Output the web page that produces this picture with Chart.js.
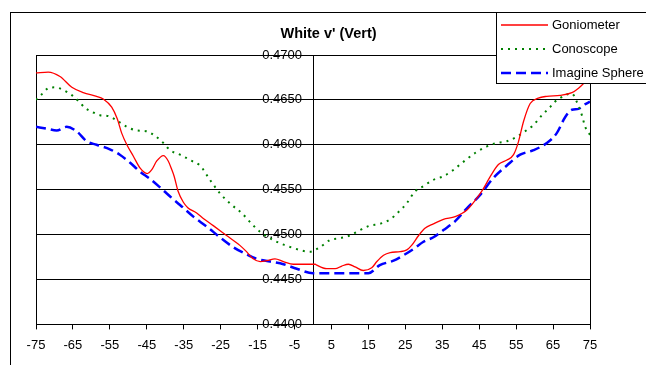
<!DOCTYPE html>
<html>
<head>
<meta charset="utf-8">
<script src="https://cdn.jsdelivr.net/npm/chart.js@4/dist/chart.umd.min.js"></script>
<style>
  html, body { margin: 0; padding: 0; background: #fff; }
  #wrap { width: 646px; height: 365px; position: relative; }
</style>
</head>
<body>
<div id="wrap"><canvas id="c" width="646" height="365"></canvas></div>
<script>
const titleText = "White v' (Vert)";
const seriesNames = ["Goniometer", "Conoscope", "Imagine Sphere"];
const xTickValues = [-75, -65, -55, -45, -35, -25, -15, -5, 5, 15, 25, 35, 45, 55, 65, 75];
const yTickValues = [0.4400, 0.4450, 0.4500, 0.4550, 0.4600, 0.4650, 0.4700];

const goniometerX = [-75, -71.7, -68.5, -65.3, -62.2, -58.6, -56.8, -54.5, -53, -51.8, -50.4, -48.6, -46.8, -44.9, -43.7, -42.3, -40.5, -39.2, -38.3, -37.6, -36.5, -35.1, -33.9, -31.5, -29.7, -27.0, -23.4, -19.8, -18.0, -16.2, -14.3, -12.5, -10.3, -8.0, -5.3, 0.6, 1.0, 3.7, 6.0, 7.8, 9.6, 11.4, 13.6, 15.9, 17.3, 19.1, 20.9, 23.6, 25.4, 26.7, 28.6, 30.3, 32.6, 35.3, 38.5, 41.6, 43.9, 46.1, 47.9, 50.2, 52.5, 54.3, 55.6, 57.0, 58.8, 61.0, 63.3, 66.9, 70.1, 71.9, 73.2, 75];
const goniometerY = [0.4680, 0.4681, 0.4676, 0.4664, 0.4658, 0.4654, 0.4651, 0.4642, 0.4629, 0.4613, 0.4600, 0.4587, 0.4574, 0.4568, 0.4572, 0.4582, 0.4588, 0.4582, 0.4573, 0.4565, 0.4548, 0.4536, 0.4530, 0.4524, 0.4518, 0.4510, 0.4499, 0.4488, 0.4481, 0.4473, 0.4470, 0.4471, 0.4473, 0.4470, 0.4467, 0.4467, 0.4466, 0.4462, 0.4462, 0.4465, 0.4467, 0.4464, 0.4460, 0.4463, 0.4470, 0.4477, 0.4480, 0.4481, 0.4483, 0.4488, 0.4499, 0.4507, 0.4512, 0.4517, 0.4520, 0.4527, 0.4538, 0.4551, 0.4564, 0.4578, 0.4583, 0.4589, 0.4603, 0.4626, 0.4646, 0.4652, 0.4654, 0.4655, 0.4658, 0.4663, 0.4668, 0.4675];

const conoscopeX = [-75, -73.5, -71.7, -69.9, -67.6, -64.9, -63.1, -61.7, -59.5, -57.7, -55.4, -52.7, -50.4, -47.7, -45.0, -42.8, -40.5, -38.7, -36.0, -32.8, -30.6, -27.9, -25.2, -22.0, -19.3, -16.6, -14.3, -9.8, -5.3, -0.8, 1.9, 4.6, 7.3, 10.0, 12.7, 15.4, 18.1, 20.9, 23.1, 25.4, 27.6, 29.9, 32.6, 35.3, 38.0, 40.7, 44.3, 47.0, 49.7, 52.5, 55.2, 57.0, 59.7, 62.0, 64.2, 65.5, 66.9, 68.7, 70.1, 71.4, 72.8, 73.7, 75];
const conoscopeY = [0.4650, 0.4656, 0.4663, 0.4664, 0.4661, 0.4654, 0.4647, 0.4641, 0.4636, 0.4633, 0.4632, 0.4626, 0.4620, 0.4616, 0.4615, 0.4610, 0.4602, 0.4594, 0.4589, 0.4582, 0.4577, 0.4561, 0.4546, 0.4533, 0.4524, 0.4512, 0.4503, 0.4492, 0.4485, 0.4481, 0.4486, 0.4494, 0.4496, 0.4499, 0.4505, 0.4510, 0.4512, 0.4517, 0.4525, 0.4535, 0.4548, 0.4554, 0.4561, 0.4565, 0.4572, 0.4581, 0.4592, 0.4598, 0.4602, 0.4604, 0.4609, 0.4614, 0.4622, 0.4633, 0.4642, 0.4648, 0.4652, 0.4656, 0.4657, 0.4648, 0.4633, 0.4620, 0.4611];

const sphereX = [-75, -72.1, -69.4, -66.7, -64.0, -61.3, -58.6, -55.0, -52.3, -49.5, -46.8, -44.1, -41.0, -38.3, -36.0, -32.4, -28.8, -25.2, -21.6, -18.0, -15.2, -11.6, -8.0, -4.4, 0, 5, 10, 15, 18.1, 21.8, 24.5, 27.2, 29.9, 32.6, 35.3, 38.5, 41.6, 45.2, 48.8, 52.5, 56.1, 59.7, 63.3, 66.0, 68.3, 70.1, 71.9, 73.2, 75];
const sphereY = [0.4620, 0.4618, 0.4616, 0.4620, 0.4615, 0.4604, 0.4600, 0.4595, 0.4589, 0.4580, 0.4570, 0.4562, 0.4551, 0.4541, 0.4533, 0.4520, 0.4509, 0.4497, 0.4486, 0.4478, 0.4473, 0.4470, 0.4467, 0.4462, 0.4457, 0.4457, 0.4457, 0.4457, 0.4466, 0.4471, 0.4477, 0.4484, 0.4492, 0.4497, 0.4505, 0.4515, 0.4529, 0.4544, 0.4563, 0.4577, 0.4589, 0.4594, 0.4602, 0.4613, 0.4631, 0.4639, 0.4640, 0.4644, 0.4648];

const FONT = '"Liberation Sans", Arial, sans-serif';
const pts = (xs, ys) => xs.map((x, i) => ({ x: x, y: ys[i] }));

const decor = {
  id: 'decor',
  beforeDraw(chart) {
    // shift the centre y-axis labels left of the axis line (tick + gap)
    try {
      const s = chart.scales.y;
      const items = s.getLabelItems(chart.chartArea);
      items.forEach(it => { it.options.translation[0] -= 11; });
    } catch (e) {}
  },
  afterDraw(chart) {
    const ctx = chart.ctx;
    ctx.save();
    ctx.strokeStyle = '#000';
    ctx.lineWidth = 1;
    ctx.setLineDash([]);
    ctx.strokeRect(10.5, 12.5, 700, 400);
    ctx.fillStyle = '#000';
    ctx.font = 'bold 14.5px ' + FONT;
    ctx.textAlign = 'center';
    ctx.textBaseline = 'middle';
    ctx.fillText(titleText, 328.5, 34);
    ctx.fillStyle = '#fff';
    ctx.fillRect(496.5, 12.5, 200, 71);
    ctx.strokeRect(496.5, 12.5, 200, 71);
    chart.data.datasets.forEach((ds, i) => {
      const y = 25 + i * 24;
      ctx.strokeStyle = ds.borderColor;
      ctx.lineWidth = ds.borderWidth;
      ctx.setLineDash(ds.borderDash || []);
      ctx.beginPath();
      ctx.moveTo(501, y);
      ctx.lineTo(548, y);
      ctx.stroke();
      ctx.setLineDash([]);
      ctx.fillStyle = '#000';
      ctx.font = '13px ' + FONT;
      ctx.textAlign = 'left';
      ctx.textBaseline = 'middle';
      ctx.fillText(ds.label, 552, y + 0.5);
    });
    ctx.restore();
  }
};

new Chart(document.getElementById('c'), {
  type: 'scatter',
  data: {
    datasets: [
      { label: seriesNames[0], data: pts(goniometerX, goniometerY), showLine: true, borderColor: '#FF0000', borderWidth: 1.3, pointRadius: 0, tension: 0.4, cubicInterpolationMode: 'monotone', fill: false },
      { label: seriesNames[1], data: pts(conoscopeX, conoscopeY), showLine: true, borderColor: '#008000', borderWidth: 2, borderDash: [2, 5], pointRadius: 0, tension: 0.4, cubicInterpolationMode: 'monotone', fill: false },
      { label: seriesNames[2], data: pts(sphereX, sphereY), showLine: true, borderColor: '#0000FF', borderWidth: 2.5, borderDash: [10, 5], pointRadius: 0, tension: 0.4, cubicInterpolationMode: 'monotone', fill: false }
    ]
  },
  options: {
    responsive: false,
    animation: false,
    events: [],
    layout: { padding: { left: 36, top: 55, right: 56, bottom: 4 } },
    plugins: { legend: { display: false }, title: { display: false }, tooltip: { enabled: false } },
    scales: {
      x: {
        type: 'linear',
        position: 'bottom',
        min: -75, max: 75,
        afterBuildTicks: (s) => { s.ticks = xTickValues.map(v => ({ value: v })); },
        ticks: { color: '#000', font: { family: FONT, size: 13 }, padding: 8, maxRotation: 0, autoSkip: false, callback: (v) => String(v) },
        grid: {
          color: (c) => (c.index === 0 || c.index === xTickValues.length - 1) ? '#000' : 'rgba(0,0,0,0)',
          tickColor: '#000', tickLength: 5, lineWidth: 1, drawOnChartArea: true
        },
        border: { display: true, color: '#000', width: 1 }
      },
      y: {
        type: 'linear',
        position: { x: 0 },
        min: 0.44, max: 0.47,
        afterBuildTicks: (s) => { s.ticks = yTickValues.map(v => ({ value: v })); },
        ticks: { color: '#000', font: { family: FONT, size: 13 }, padding: 7, callback: (v) => Number(v).toFixed(4) },
        grid: { color: '#000', tickColor: '#000', tickLength: 4, lineWidth: 1 },
        border: { display: true, color: '#000', width: 1 }
      }
    }
  },
  plugins: [decor]
});
</script>
</body>
</html>
